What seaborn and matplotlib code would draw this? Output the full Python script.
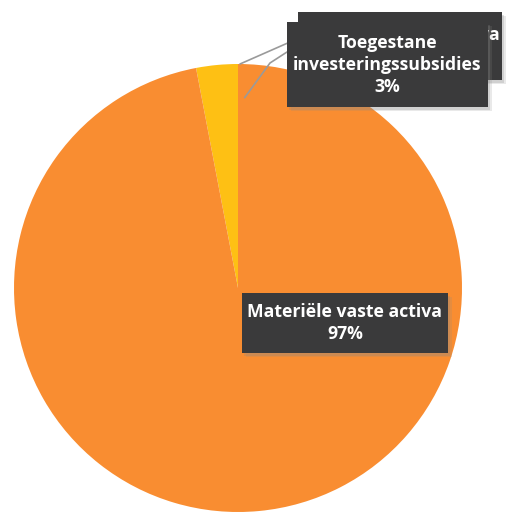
import numpy as np
import matplotlib
matplotlib.use("Agg")
import matplotlib.pyplot as plt
import seaborn as sns
from matplotlib.patches import Rectangle

# Composition of fixed assets (share of total)
categories = ["Toegestane investeringssubsidies", "Materiële vaste activa", "Immateriële vaste activa"]
shares = [3, 97, 0]
label_lines = [
    ["Toegestane", "investeringssubsidies"],
    ["Materiële vaste activa"],
    ["Immateriële vaste activa"],
]
colors = ["#FEC014", "#F98D31", "#8CA5CF"]

sns.set_theme(style="white")
plt.rcParams["font.family"] = ["Open Sans", "DejaVu Sans"]

W, H = 509, 519
fig = plt.figure(figsize=(W / 100, H / 100), dpi=100)
ax = fig.add_axes([0, 0, 1, 1])

cx, cy, r = 238, H - 288, 224
wedges, _ = ax.pie(shares, colors=colors, startangle=90, counterclock=True,
                   center=(cx, cy), radius=r, frame=True,
                   wedgeprops=dict(linewidth=0))
ax.set_xlim(0, W)
ax.set_ylim(0, H)
ax.set_aspect("equal")
ax.axis("off")

box_color = "#3A3A3B"
txt_kw = dict(color="white", fontsize=12.7, fontweight="bold", va="center", ha="center")


def pct(v):
    return f"{v:g}%"


def draw_box(x0, y0, x1, y1, lines, z, text_x=None, text_y=None, clip_from=None):
    # pixel box (top-left origin) converted to data coordinates
    for off, a in ((4, 0.18), (2.5, 0.25)):
        ax.add_patch(Rectangle((x0 + off, H - y1 - off), x1 - x0, y1 - y0,
                               facecolor="#888888", edgecolor="none", alpha=a, zorder=z - 0.5))
    ax.add_patch(Rectangle((x0, H - y1), x1 - x0, y1 - y0,
                           facecolor=box_color, edgecolor="none", zorder=z))
    n = len(lines)
    ymid = (y0 + y1) / 2 if text_y is None else text_y
    xc = (x0 + x1) / 2 if text_x is None else text_x
    for i, t in enumerate(lines):
        yy = ymid + (i - (n - 1) / 2) * 22
        tx = ax.text(xc, H - yy, t, zorder=z + 0.2, **txt_kw)
        if clip_from is not None:
            clip = Rectangle((clip_from, H - y1), x1 - clip_from, y1 - y0,
                             transform=ax.transData, facecolor="none")
            tx.set_clip_path(clip)


# leader lines from the top of the pie to the labels
top_angle = np.deg2rad(90)
p_top = (cx + r * np.cos(top_angle) + 2, cy + r * np.sin(top_angle))
ax.plot([p_top[0], 290], [p_top[1], H - 42], color="#9a9a9a", lw=1.2, zorder=3)
inner = (cx + 0.85 * r * np.cos(np.deg2rad(88)), cy + 0.85 * r * np.sin(np.deg2rad(88)))
ax.plot([inner[0], 270, 287], [inner[1], H - 63, H - 52], color="#9a9a9a", lw=1.2, zorder=3)

# labels: small slice behind (mostly covered), subsidy label, main slice label
draw_box(298, 12, 502, 80, label_lines[2], 4, text_x=390, text_y=35, clip_from=488)
draw_box(287, 22, 488, 107, label_lines[0] + [pct(shares[0])], 6)
draw_box(242, 293, 448, 353, label_lines[1] + [pct(shares[1])], 6)

fig.savefig("out.png", dpi=100, facecolor="white")
